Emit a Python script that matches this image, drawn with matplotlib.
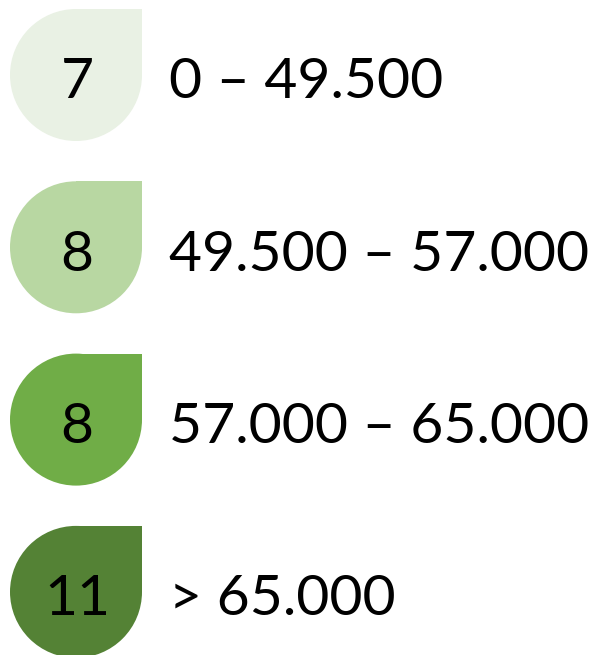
import matplotlib
matplotlib.use("Agg")
import matplotlib.pyplot as plt
from matplotlib.patches import Circle, Rectangle

counts = [7, 8, 8, 11]
range_labels = ["0 – 49.500", "49.500 – 57.000", "57.000 – 65.000", "> 65.000"]
colors = ["#E9F1E4", "#B8D7A2", "#70AD47", "#548235"]

plt.rcParams['font.family'] = ['Lato', 'DejaVu Sans']

fig = plt.figure(figsize=(5.9, 6.55), dpi=100)
ax = fig.add_axes([0, 0, 1, 1])
ax.set_xlim(0, 590)
ax.set_ylim(655, 0)
ax.axis('off')

cx, r = 76, 66
cy0, dy = 75, 172.3
for i, (n, lab, c) in enumerate(zip(counts, range_labels, colors)):
    cy = cy0 + i * dy
    ax.add_patch(Circle((cx, cy), r, facecolor=c, edgecolor='none'))
    ax.add_patch(Rectangle((cx, cy - r), r, r, facecolor=c, edgecolor='none'))
    ax.text(cx + 1, cy + 8, str(n), ha='center', va='center', fontsize=41, color='black')
    ax.text(169, cy + 8, lab, ha='left', va='center', fontsize=41, color='black')

fig.savefig("out.png", dpi=100)
